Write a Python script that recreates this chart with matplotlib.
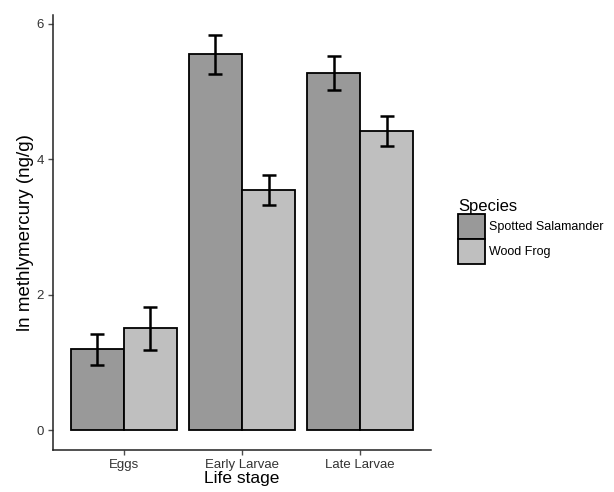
import numpy as np
import matplotlib
matplotlib.use('Agg')
import matplotlib.pyplot as plt
from matplotlib.patches import Patch

plt.rcParams['font.family'] = ['Liberation Sans', 'DejaVu Sans']

# data
stages = ['Eggs', 'Early Larvae', 'Late Larvae']
species = ['Spotted Salamander', 'Wood Frog']
means = {
    'Spotted Salamander': [1.20, 5.55, 5.28],
    'Wood Frog': [1.51, 3.55, 4.42],
}
lower = {
    'Spotted Salamander': [0.97, 5.26, 5.02],
    'Wood Frog': [1.18, 3.32, 4.19],
}
upper = {
    'Spotted Salamander': [1.42, 5.84, 5.53],
    'Wood Frog': [1.82, 3.77, 4.64],
}
colors = {'Spotted Salamander': '#999999', 'Wood Frog': '#bfbfbf'}

fig = plt.figure(figsize=(6.14, 4.92), dpi=100)
ax = fig.add_axes([53 / 614, 42 / 492, 378 / 614, 435 / 492])

x = np.arange(1, len(stages) + 1)
w = 0.45
for i, sp in enumerate(species):
    pos = x - w / 2 + i * w
    m = np.array(means[sp])
    ax.bar(pos, m, width=w, color=colors[sp], edgecolor='black', linewidth=1.3, zorder=2)
    yerr = [m - np.array(lower[sp]), np.array(upper[sp]) - m]
    ax.errorbar(pos, m, yerr=yerr, fmt='none', ecolor='black', elinewidth=1.8,
                capsize=5, capthick=1.8, zorder=3)

ax.set_xlim(0.4, 3.6)
ax.set_ylim(-0.29, 6.13)
ax.set_xticks(x)
ax.set_xticklabels(stages)
ax.set_yticks([0, 2, 4, 6])
ax.tick_params(axis='both', colors='#4d4d4d', labelsize=9.5, length=3.5, width=1, pad=3)
for lab in ax.get_xticklabels() + ax.get_yticklabels():
    lab.set_color('#333333')
ax.spines['top'].set_visible(False)
ax.spines['right'].set_visible(False)
for s in ['left', 'bottom']:
    ax.spines[s].set_linewidth(1.1)
    ax.spines[s].set_color('#222222')

ax.set_xlabel('Life stage', fontsize=12.5, labelpad=0)
ax.set_ylabel('ln methlymercury (ng/g)', fontsize=13.5, labelpad=2)

handles = [Patch(facecolor=colors[sp], edgecolor='black', linewidth=1.3, label=sp) for sp in species]
leg = fig.legend(handles=handles, title='Species', loc='upper left',
                 bbox_to_anchor=(453 / 614, 1 - 194 / 492), frameon=False,
                 fontsize=9, title_fontsize=12, handlelength=2.15, handleheight=2.7,
                 handletextpad=0.35, labelspacing=0.0, borderaxespad=0)
leg._legend_box.align = 'left'

fig.savefig('out.png', dpi=100)
